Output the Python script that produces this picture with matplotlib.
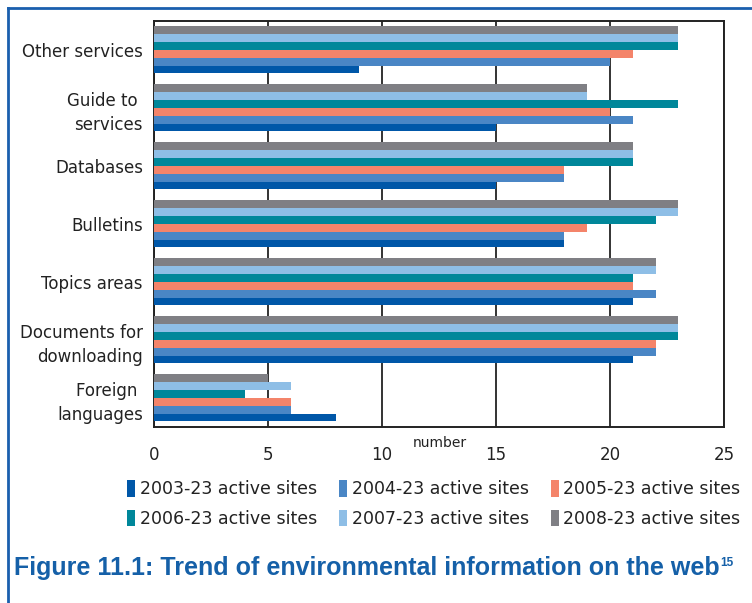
import numpy as np
import matplotlib.pyplot as plt
from matplotlib.lines import Line2D

# ── Data ──────────────────────────────────────────────────────────────
categories = ["Other services", "Guide to \nservices", "Databases", "Bulletins",
              "Topics areas", "Documents for\ndownloading", "Foreign \nlanguages"]

series_names = ["2003-23 active sites", "2004-23 active sites", "2005-23 active sites",
                "2006-23 active sites", "2007-23 active sites", "2008-23 active sites"]

v2003 = [9, 15, 15, 18, 21, 21, 8]
v2004 = [20, 21, 18, 18, 22, 22, 6]
v2005 = [21, 20, 18, 19, 21, 22, 6]
v2006 = [23, 23, 21, 22, 21, 23, 4]
v2007 = [23, 19, 21, 23, 22, 23, 6]
v2008 = [23, 19, 21, 23, 22, 23, 5]

colors = ["#0057A8", "#4A86C5", "#F4846A", "#00879A", "#8EBEE6", "#7F7F84"]

plt.rcParams['font.family'] = ["DejaVu Sans"]

fig = plt.figure(figsize=(7.52, 6.03), dpi=100)
ax = fig.add_axes([0.2048, 0.2919, 0.758, 0.6733])

values = [v2003, v2004, v2005, v2006, v2007, v2008]
y = np.arange(len(categories))
bh = 0.135
handles = []
for i, (vals, c, name) in enumerate(zip(values, colors, series_names)):
    # 2003 at the bottom of each group, 2008 at the top
    offset = (2.5 - i) * bh
    b = ax.barh(y + offset, vals, height=bh, color=c, label=name, zorder=3)
    handles.append(b)

ax.set_xlim(0, 25)
ax.set_ylim(6.5, -0.5)
ax.set_xticks([0, 5, 10, 15, 20, 25])
ax.set_yticks(y)
ax.set_yticklabels(categories, fontsize=12, color="#222222", linespacing=1.45)
ax.tick_params(axis='both', length=0, labelsize=12, labelcolor="#222222")
ax.tick_params(axis='x', pad=14)
ax.tick_params(axis='y', pad=8)
ax.xaxis.grid(True, color="#333333", linewidth=1.4, zorder=0)
for s in ax.spines.values():
    s.set_color("#222222")
    s.set_linewidth(1.4)

fig.text(440 / 752, 1 - 443 / 603, "number", fontsize=10, ha='center', va='center',
         color="#222222")

# legend filled column-wise → reorder so rows read 2003..2005 / 2006..2008
order = [0, 3, 1, 4, 2, 5]
leg = fig.legend([handles[k] for k in order], [series_names[k] for k in order],
                 ncol=3, loc='center', bbox_to_anchor=(434 / 752, 1 - 504 / 603),
                 frameon=False, fontsize=12.5, handlelength=0.45, handleheight=1.1,
                 handletextpad=0.25, columnspacing=1.3, labelspacing=0.65)
for t in leg.get_texts():
    t.set_color("#222222")

title = fig.text(14 / 752, 1 - 568 / 603,
                 "Figure 11.1: Trend of environmental information on the web",
                 fontsize=18, fontweight='bold', color="#1560A8", ha='left',
                 va='center', family=["Liberation Sans"])
# footnote marker right after the title
ax.annotate("15", xy=(1, 0.72), xycoords=title, xytext=(0.5, 0),
            textcoords='offset points', fontsize=8.5, fontweight='bold',
            color="#1560A8", ha='left', va='center', family=["Liberation Sans"],
            annotation_clip=False)

# blue frame lines (top and left)
fig.add_artist(Line2D([8 / 752, 1], [1 - 8 / 603, 1 - 8 / 603], color="#1A5FAE",
                      linewidth=2, transform=fig.transFigure))
fig.add_artist(Line2D([8 / 752, 8 / 752], [1 - 8 / 603, 0], color="#1A5FAE",
                      linewidth=2, transform=fig.transFigure))

fig.savefig("out.png", dpi=100)
